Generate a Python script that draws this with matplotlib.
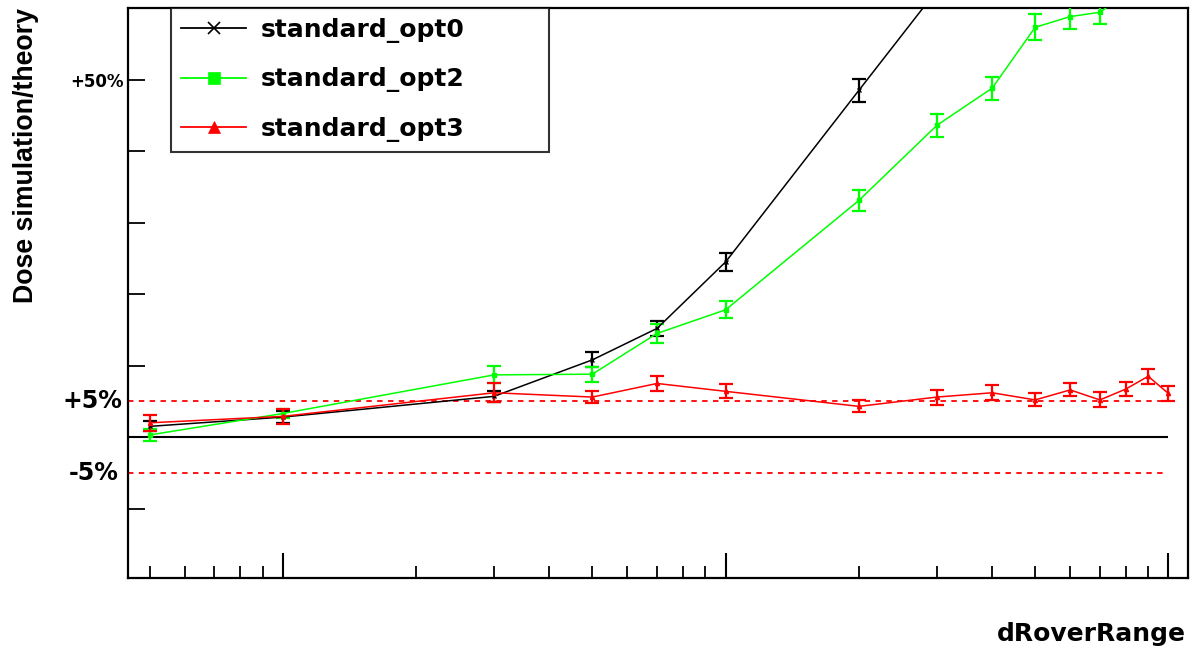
import numpy as np
import matplotlib
matplotlib.use('Agg')
import matplotlib.pyplot as plt
from matplotlib.transforms import blended_transform_factory

plt.rcParams['font.family'] = ['DejaVu Sans']
plt.rcParams['font.weight'] = 'bold'

# dRoverRange values (log axis)
x_all = [0.005, 0.01, 0.03, 0.05, 0.07, 0.1, 0.2, 0.3, 0.4, 0.5, 0.6, 0.7, 0.8, 0.9, 1.0]

# Dose simulation / theory
opt0 = [1.015, 1.028, 1.057, 1.108, 1.152, 1.245, 1.485, 1.625]
opt0_err = [0.007, 0.008, 0.008, 0.0105, 0.01, 0.013, 0.016, 0.016]

opt2 = [1.003, 1.033, 1.087, 1.088, 1.145, 1.178, 1.331, 1.436, 1.488, 1.573, 1.588, 1.594, 1.62]
opt2_err = [0.009, 0.006, 0.012, 0.0105, 0.013, 0.012, 0.015, 0.016, 0.016, 0.018, 0.017, 0.017, 0.017]

opt3 = [1.020, 1.029, 1.062, 1.056, 1.075, 1.064, 1.043, 1.056, 1.062, 1.052, 1.066, 1.052, 1.067, 1.085, 1.061]
opt3_err = [0.011, 0.011, 0.013, 0.009, 0.01, 0.01, 0.0085, 0.0105, 0.0105, 0.009, 0.009, 0.0105, 0.01, 0.0105, 0.0105]

series = [
    ('standard_opt0', opt0, opt0_err, 'black', 'x'),
    ('standard_opt2', opt2, opt2_err, '#00ff00', 's'),
    ('standard_opt3', opt3, opt3_err, '#ff0000', '^'),
]

fig = plt.figure(figsize=(11.92, 6.48), dpi=100)
ax = fig.add_axes([128 / 1192, 1 - 578 / 648, (1188 - 128) / 1192, (578 - 8) / 648])

xlo, xhi = 0.00447, 1.107
ax.set_xscale('log')
ax.set_xlim(xlo, xhi)
ax.set_ylim(0.803, 1.6)

# reference lines
ax.hlines(1.0, xlo, 1.0, colors='black', lw=1.5, zorder=1)
ax.hlines([1.05, 0.95], xlo, 1.0, colors='#ff0000', lw=1.3, linestyles=(0, (3, 3)), zorder=1)

handles = []
for name, vals, errs, col, mk in series:
    xs = x_all[:len(vals)]
    ax.errorbar(xs, vals, yerr=errs, color=col, lw=1.1, elinewidth=1.6,
                capsize=4.7, capthick=1.6, marker=mk, markersize=3,
                zorder=3, clip_on=True)
    h, = ax.plot([], [], color=col, lw=1.3, marker=mk, markersize=8,
                 markeredgewidth=1.2 if mk == 'x' else 0.5)
    handles.append(h)

leg = fig.legend(handles, [s[0] for s in series], loc='upper left',
                 bbox_to_anchor=(171 / 1192, 0, (549 - 171) / 1192, 1 - 8 / 648),
                 mode='expand', borderaxespad=0, fancybox=False, frameon=True,
                 edgecolor='black', handlelength=2.6,
                 handletextpad=0.6, labelspacing=0.98, borderpad=0.4,
                 prop={'family': 'DejaVu Sans', 'weight': 'bold', 'size': 18})
leg.get_frame().set_linewidth(1.5)

# axes styling
for s in ax.spines.values():
    s.set_linewidth(1.6)
ax.set_yticks([0.9, 1.0, 1.1, 1.2, 1.3, 1.4, 1.5])
ax.set_yticklabels(['', '', '', '', '', '', '+50%'], fontsize=12, fontweight='bold')
ax.tick_params(axis='y', which='both', direction='in', length=12, width=1.3,
               right=False, pad=3)
ax.tick_params(axis='x', which='major', direction='in', length=18, width=1.5,
               top=False, labelbottom=False)
ax.tick_params(axis='x', which='minor', direction='in', length=9, width=1.3,
               top=False, labelbottom=False)
ax.yaxis.set_minor_locator(matplotlib.ticker.NullLocator())

trans = blended_transform_factory(ax.transAxes, ax.transData)
ax.text(-0.005, 1.05, '+5%', transform=trans, ha='right', va='center',
        fontsize=17, fontweight='bold')
ax.text(-0.009, 0.95, '-5%', transform=trans, ha='right', va='center',
        fontsize=17, fontweight='bold')

fig.text(26 / 1192, 1 - 155 / 648, 'Dose simulation/theory', rotation=90,
         ha='center', va='center', fontsize=19.3, fontweight='bold',
         family='Liberation Sans')
fig.text(1186 / 1192, 1 - 641 / 648, 'dRoverRange', ha='right', va='baseline',
         fontsize=18, fontweight='bold')

fig.savefig('out.png', dpi=100)
